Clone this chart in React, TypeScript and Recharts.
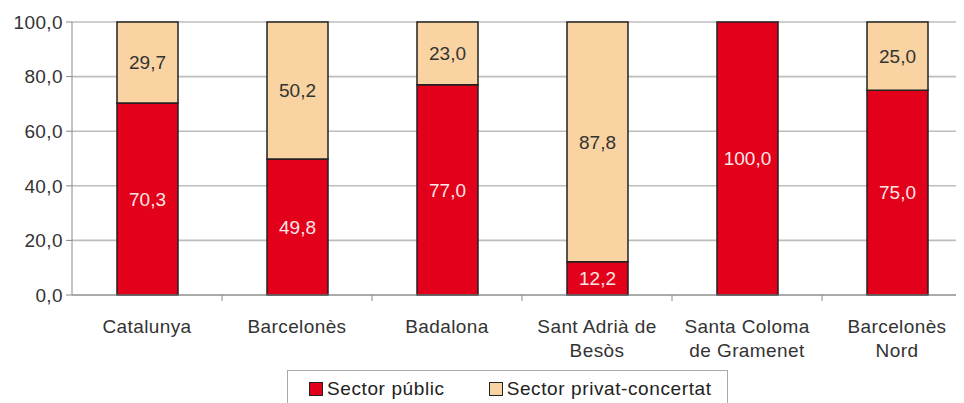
import { BarChart, Bar, XAxis, YAxis, CartesianGrid, LabelList } from "recharts";

const categories = ["Catalunya", "Barcelonès", "Badalona", "Sant Adrià de|Besòs", "Santa Coloma|de Gramenet", "Barcelonès|Nord"];
const publicShare = [70.3, 49.8, 77.0, 12.2, 100.0, 75.0];
const privateShare = [29.7, 50.2, 23.0, 87.8, 0, 25.0];
const yTicks = [0, 20, 40, 60, 80, 100];

const RED = "#e2001a";
const PEACH = "#f9d3a1";
const FONT = "Arial, 'Liberation Sans', sans-serif";

const data = categories.map((name, i) => ({ name, pub: publicShare[i], priv: privateShare[i] }));

const fmt = (v: any) => (Number(v) === 0 ? "" : Number(v).toFixed(1).replace(".", ","));

function CategoryTick(props: any) {
  const { x, y, payload, index } = props;
  const lines = String(payload.value).split("|");
  const half = 75;
  return (
    <g>
      {index < categories.length - 1 && <line x1={x + half} x2={x + half} y1={y} y2={y + 6} stroke="#888" />}
      <text x={x} y={y + 38} textAnchor="middle" fill="#333" fontSize={19} fontFamily={FONT} letterSpacing={0.4}>
        {lines.map((l, i) => (
          <tspan key={i} x={x} dy={i === 0 ? 0 : 24}>
            {l}
          </tspan>
        ))}
      </text>
    </g>
  );
}

function LegendBox() {
  const item = (color: string, label: string) => (
    <span style={{ display: "flex", alignItems: "center", gap: 4 }}>
      <span style={{ width: 14, height: 14, boxSizing: "border-box", background: color, border: "1.5px solid #222", display: "inline-block" }} />
      {label}
    </span>
  );
  return (
    <div
      style={{
        position: "absolute",
        left: 279,
        top: 362,
        width: 441,
        height: 45,
        border: "1px solid #aaa",
        background: "#fff",
        display: "flex",
        alignItems: "flex-start",
        gap: 44,
        paddingLeft: 21,
        paddingTop: 7,
        boxSizing: "border-box",
        fontFamily: FONT,
        fontSize: 19,
        lineHeight: "22px",
        letterSpacing: 0.6,
        color: "#222",
      }}
    >
      {item(RED, "Sector públic")}
      {item(PEACH, "Sector privat-concertat")}
    </div>
  );
}

export default function App() {
  return (
    <div style={{ position: "relative", width: 956, height: 395, overflow: "hidden" }}>
      <BarChart width={964} height={395} data={data} margin={{ top: 14, right: 0, bottom: 0, left: 0 }} barSize={61}>
        <CartesianGrid vertical={false} stroke="#bdbdbd" strokeWidth={1.6} />
        <YAxis
          width={64}
          domain={[0, 100]}
          ticks={yTicks}
          tickFormatter={(v) => Number(v).toFixed(1).replace(".", ",")}
          tick={{ fontSize: 19, fill: "#333", fontFamily: FONT, letterSpacing: 0.4 }}
          stroke="#888"
          tickSize={6}
          tickMargin={3}
        />
        <XAxis
          dataKey="name"
          height={108}
          interval={0}
          stroke="#888"
          tickLine={false}
          tickSize={0}
          tickMargin={0}
          tick={<CategoryTick />}
        />
        <Bar dataKey="pub" stackId="s" fill={RED} stroke="#222" strokeWidth={1.5} isAnimationActive={false}>
          <LabelList dataKey="pub" position="center" formatter={fmt} fill="#fde6e6" fontSize={19} fontFamily={FONT} />
        </Bar>
        <Bar dataKey="priv" stackId="s" fill={PEACH} stroke="#222" strokeWidth={1.5} isAnimationActive={false}>
          <LabelList dataKey="priv" position="center" formatter={fmt} fill="#333" fontSize={19} fontFamily={FONT} />
        </Bar>
      </BarChart>
      <LegendBox />
    </div>
  );
}
